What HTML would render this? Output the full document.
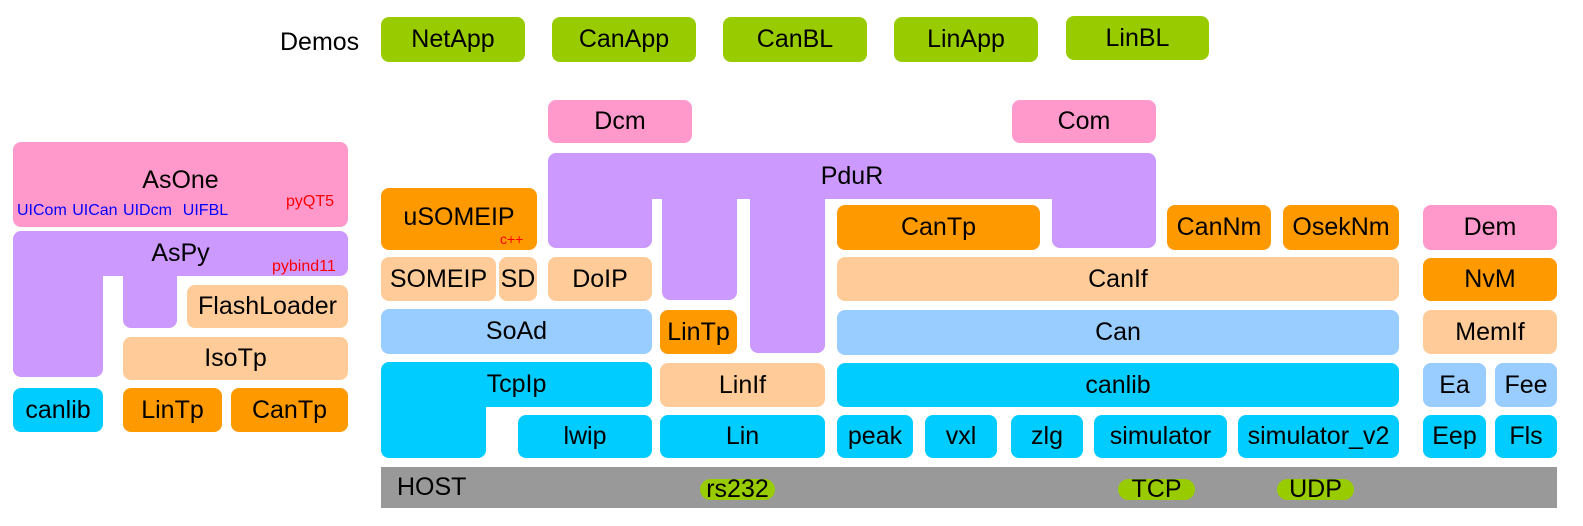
<!DOCTYPE html>
<html><head><style>
body{margin:0;width:1583px;height:526px;background:#fff;position:relative;overflow:hidden;font-family:"Liberation Sans",sans-serif;}
.b{position:absolute;border-radius:8px;display:flex;align-items:center;justify-content:center;font-size:25px;color:#000;box-sizing:border-box;white-space:nowrap;}
.g{background:#99cc00}.p{background:#ff99cc}.u{background:#cc99ff}.o{background:#ff9900}.c{background:#ffcc99}.l{background:#99ccff}.y{background:#00ccff}
.s{position:absolute;font-size:16px;white-space:nowrap;}
</style></head><body>
<div class="s" style="left:280px;top:28px;font-size:25px;">Demos</div>
<div class="b g" style="left:381px;top:17px;width:144px;height:45px">NetApp</div>
<div class="b g" style="left:552px;top:17px;width:144px;height:45px">CanApp</div>
<div class="b g" style="left:723px;top:17px;width:144px;height:45px">CanBL</div>
<div class="b g" style="left:894px;top:17px;width:144px;height:45px">LinApp</div>
<div class="b g" style="left:1066px;top:16px;width:143px;height:44px">LinBL</div>

<div class="b p" style="left:548px;top:100px;width:144px;height:43px">Dcm</div>
<div class="b p" style="left:1012px;top:100px;width:144px;height:43px">Com</div>

<div class="b u" style="left:548px;top:153px;width:608px;height:46px;border-radius:8px 8px 0 0">PduR</div>
<div class="b u" style="left:548px;top:190px;width:104px;height:58px;border-radius:0 0 8px 8px"></div>
<div class="b u" style="left:662px;top:190px;width:75px;height:110px;border-radius:0 0 8px 8px"></div>
<div class="b u" style="left:750px;top:190px;width:75px;height:163px;border-radius:0 0 8px 8px"></div>
<div class="b u" style="left:1052px;top:190px;width:104px;height:58px;border-radius:0 0 8px 8px"></div>

<div class="b p" style="left:13px;top:142px;width:335px;height:85px;padding-bottom:8px">AsOne</div>
<div class="s" style="left:17px;top:202px;color:#0000ff;word-spacing:1px">UICom UICan UIDcm &nbsp;UIFBL</div>
<div class="s" style="left:286px;top:193px;color:#ff0000;">pyQT5</div>
<div class="b u" style="left:13px;top:231px;width:335px;height:45px;border-radius:8px 8px 8px 0">AsPy</div>
<div class="b u" style="left:13px;top:260px;width:90px;height:117px;border-radius:0 0 8px 8px"></div>
<div class="b u" style="left:123px;top:270px;width:54px;height:58px;border-radius:0 0 8px 8px"></div>
<div class="s" style="left:272px;top:258px;color:#ff0000;">pybind11</div>
<div class="b c" style="left:187px;top:285px;width:161px;height:43px">FlashLoader</div>
<div class="b c" style="left:123px;top:337px;width:225px;height:43px">IsoTp</div>
<div class="b y" style="left:13px;top:388px;width:90px;height:44px">canlib</div>
<div class="b o" style="left:123px;top:388px;width:99px;height:44px">LinTp</div>
<div class="b o" style="left:231px;top:388px;width:117px;height:44px">CanTp</div>

<div class="b o" style="left:381px;top:188px;width:156px;height:62px;padding-bottom:4px">uSOMEIP</div>
<div class="s" style="left:500px;top:231px;color:#ff0000;font-size:14px">c++</div>
<div class="b c" style="left:381px;top:257px;width:115px;height:44px">SOMEIP</div>
<div class="b c" style="left:499px;top:257px;width:38px;height:44px">SD</div>
<div class="b c" style="left:548px;top:257px;width:104px;height:44px">DoIP</div>
<div class="b l" style="left:381px;top:309px;width:271px;height:45px">SoAd</div>
<div class="b y" style="left:381px;top:362px;width:271px;height:45px;border-radius:8px 8px 8px 0">TcpIp</div>
<div class="b y" style="left:381px;top:395px;width:105px;height:63px;border-radius:0 0 8px 8px"></div>
<div class="b y" style="left:518px;top:415px;width:134px;height:43px">lwip</div>

<div class="b o" style="left:660px;top:310px;width:77px;height:44px">LinTp</div>
<div class="b c" style="left:660px;top:363px;width:165px;height:44px">LinIf</div>
<div class="b y" style="left:660px;top:415px;width:165px;height:43px">Lin</div>

<div class="b o" style="left:837px;top:205px;width:203px;height:45px">CanTp</div>
<div class="b o" style="left:1167px;top:205px;width:104px;height:45px">CanNm</div>
<div class="b o" style="left:1283px;top:205px;width:116px;height:45px">OsekNm</div>
<div class="b c" style="left:837px;top:257px;width:562px;height:44px">CanIf</div>
<div class="b l" style="left:837px;top:310px;width:562px;height:45px">Can</div>
<div class="b y" style="left:837px;top:363px;width:562px;height:44px">canlib</div>
<div class="b y" style="left:837px;top:415px;width:76px;height:43px">peak</div>
<div class="b y" style="left:925px;top:415px;width:72px;height:43px">vxl</div>
<div class="b y" style="left:1011px;top:415px;width:72px;height:43px">zlg</div>
<div class="b y" style="left:1094px;top:415px;width:133px;height:43px">simulator</div>
<div class="b y" style="left:1238px;top:415px;width:161px;height:43px">simulator_v2</div>

<div class="b p" style="left:1423px;top:205px;width:134px;height:45px">Dem</div>
<div class="b o" style="left:1423px;top:258px;width:134px;height:43px">NvM</div>
<div class="b c" style="left:1423px;top:310px;width:134px;height:44px">MemIf</div>
<div class="b l" style="left:1423px;top:363px;width:63px;height:44px">Ea</div>
<div class="b l" style="left:1495px;top:363px;width:62px;height:44px">Fee</div>
<div class="b y" style="left:1423px;top:415px;width:63px;height:43px">Eep</div>
<div class="b y" style="left:1495px;top:415px;width:62px;height:43px">Fls</div>

<div class="b" style="left:381px;top:467px;width:1176px;height:41px;background:#999;border-radius:0;justify-content:flex-start;padding-left:16px">HOST</div>
<div class="b g" style="left:700px;top:479px;width:75px;height:21px;border-radius:11px">rs232</div>
<div class="b g" style="left:1118px;top:479px;width:77px;height:21px;border-radius:11px">TCP</div>
<div class="b g" style="left:1277px;top:479px;width:77px;height:21px;border-radius:11px">UDP</div>
</body></html>
